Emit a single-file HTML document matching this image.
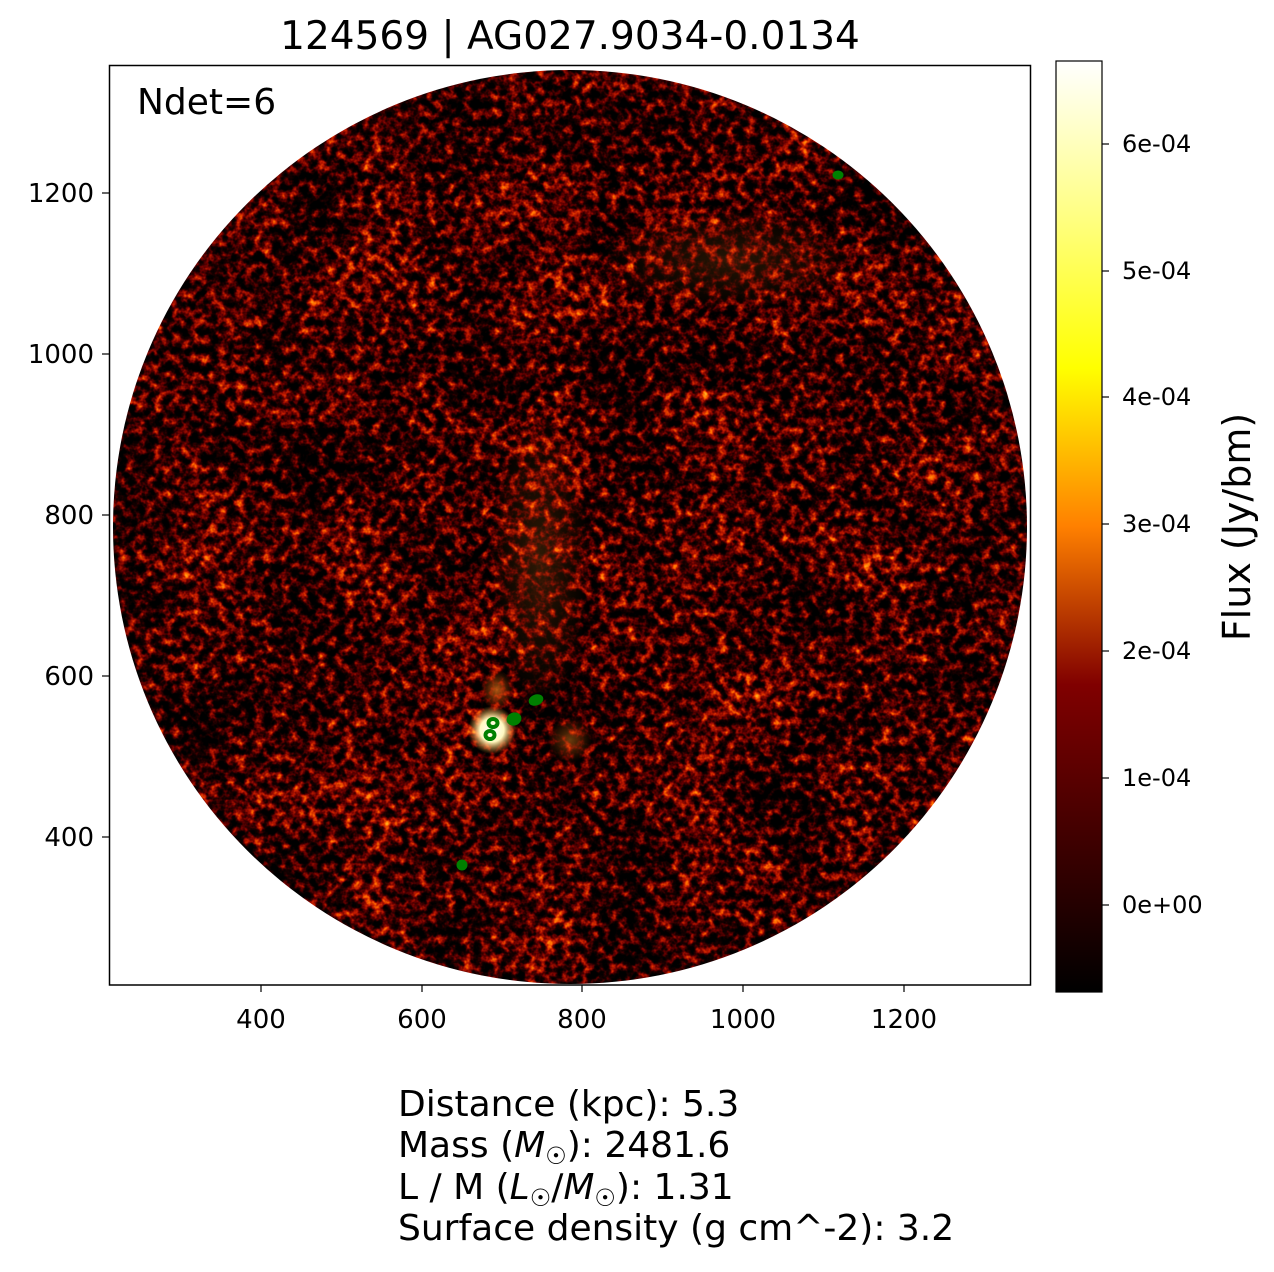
<!DOCTYPE html>
<html><head><meta charset="utf-8"><style>
body{margin:0;background:#fff;}
svg text{font-family:"DejaVu Sans","Liberation Sans",sans-serif;fill:#000;}
</style></head><body>
<svg width="1274" height="1267" viewBox="0 0 1274 1267" xmlns="http://www.w3.org/2000/svg">
<defs>
<filter id="noise" x="0" y="0" width="100%" height="100%" color-interpolation-filters="sRGB">
<feTurbulence type="fractalNoise" baseFrequency="0.11" numOctaves="3" seed="7" result="ta"/>
<feColorMatrix in="ta" type="matrix" values="1 0 0 0 0  1 0 0 0 0  1 0 0 0 0  0 0 0 0 1" result="t"/>
<feTurbulence type="fractalNoise" baseFrequency="0.012" numOctaves="2" seed="3" result="tb"/>
<feColorMatrix in="tb" type="matrix" values="1 0 0 0 0  1 0 0 0 0  1 0 0 0 0  0 0 0 0 1" result="t2"/>
<feComposite in="t" in2="t2" operator="arithmetic" k1="0" k2="0.85" k3="0.25" k4="-0.07" result="m"/>
<feColorMatrix in="m" type="matrix" values="1 0 0 0 0  1 0 0 0 0  1 0 0 0 0  0 0 0 0 1" result="g"/>
<feComponentTransfer in="g">
<feFuncR type="table" tableValues="0 0 0 0 0.1 0.4 0.75 1 1 1"/>
<feFuncG type="table" tableValues="0 0 0 0 0 0 0.1 0.4 0.65 0.8"/>
<feFuncB type="table" tableValues="0 0 0 0 0 0 0 0 0.1 0.3"/>
</feComponentTransfer>
</filter>
<clipPath id="cc"><circle cx="570" cy="527" r="457"/></clipPath>
<linearGradient id="cb" x1="0" y1="1" x2="0" y2="0">
<stop offset="0" stop-color="#000"/>
<stop offset="0.33" stop-color="#800000"/>
<stop offset="0.5" stop-color="#ff8000"/>
<stop offset="0.67" stop-color="#ffff00"/>
<stop offset="0.83" stop-color="#ffff80"/>
<stop offset="1" stop-color="#fff"/>
</linearGradient>
<radialGradient id="g1"><stop offset="0" stop-color="#ff9020" stop-opacity="0.6"/><stop offset="1" stop-color="#ff6000" stop-opacity="0"/></radialGradient>
<radialGradient id="g2"><stop offset="0" stop-color="#fff"/><stop offset="0.5" stop-color="#fff8c0"/><stop offset="1" stop-color="#ffa020" stop-opacity="0"/></radialGradient>
</defs>
<g clip-path="url(#cc)">
<rect x="110" y="66" width="920" height="918" filter="url(#noise)"/>
<ellipse cx="540" cy="560" rx="50" ry="150" fill="url(#g1)" opacity="0.3"/>
<ellipse cx="730" cy="260" rx="130" ry="50" fill="url(#g1)" opacity="0.25"/>
<ellipse cx="497" cy="690" rx="16" ry="20" fill="url(#g1)"/>
<ellipse cx="570" cy="740" rx="22" ry="22" fill="url(#g1)" opacity="0.7"/>
<circle cx="492" cy="730" r="24" fill="url(#g2)"/>
</g>
<g fill="#008000" stroke="#008000">
<ellipse cx="838" cy="175" rx="5" ry="4"/>
<ellipse cx="536" cy="700" rx="7" ry="5" transform="rotate(-20 536 700)"/>
<ellipse cx="514" cy="719" rx="7" ry="6" transform="rotate(-20 514 719)"/>
<ellipse cx="493" cy="723" rx="4.5" ry="4" fill="none" stroke-width="4"/>
<ellipse cx="490" cy="735" rx="4.5" ry="4" fill="none" stroke-width="4"/>
<circle cx="462" cy="865" r="5"/>
</g>
<rect x="109.5" y="65.5" width="921" height="919.5" fill="none" stroke="#000" stroke-width="1.5"/>
<g stroke="#000" stroke-width="1.2">
<line x1="261" y1="985" x2="261" y2="992"/><line x1="422" y1="985" x2="422" y2="992"/><line x1="582" y1="985" x2="582" y2="992"/><line x1="743" y1="985" x2="743" y2="992"/><line x1="904" y1="985" x2="904" y2="992"/>
<line x1="102" y1="193" x2="109" y2="193"/><line x1="102" y1="354" x2="109" y2="354"/><line x1="102" y1="515" x2="109" y2="515"/><line x1="102" y1="676" x2="109" y2="676"/><line x1="102" y1="837" x2="109" y2="837"/>
</g>
<g font-size="26" text-anchor="middle">
<text x="261" y="1028">400</text><text x="422" y="1028">600</text><text x="582" y="1028">800</text><text x="743" y="1028">1000</text><text x="904" y="1028">1200</text>
</g>
<g font-size="26" text-anchor="end">
<text x="94" y="202">1200</text><text x="94" y="363">1000</text><text x="94" y="524">800</text><text x="94" y="685">600</text><text x="94" y="846">400</text>
</g>
<text x="570" y="49" font-size="39" text-anchor="middle">124569 | AG027.9034-0.0134</text>
<text x="137" y="114" font-size="36">Ndet=6</text>
<rect x="1056" y="61" width="46" height="931" fill="url(#cb)" stroke="#000" stroke-width="1.2"/>
<g stroke="#000" stroke-width="1.2">
<line x1="1102" y1="144" x2="1109" y2="144"/><line x1="1102" y1="271" x2="1109" y2="271"/><line x1="1102" y1="397" x2="1109" y2="397"/><line x1="1102" y1="524" x2="1109" y2="524"/><line x1="1102" y1="651" x2="1109" y2="651"/><line x1="1102" y1="778" x2="1109" y2="778"/><line x1="1102" y1="905" x2="1109" y2="905"/>
</g>
<g font-size="24">
<text x="1122" y="152">6e-04</text><text x="1122" y="279">5e-04</text><text x="1122" y="405">4e-04</text><text x="1122" y="532">3e-04</text><text x="1122" y="659">2e-04</text><text x="1122" y="786">1e-04</text><text x="1122" y="913">0e+00</text>
</g>
<text transform="translate(1250,527) rotate(-90)" font-size="38" text-anchor="middle">Flux (Jy/bm)</text>
<g font-size="36">
<text x="398" y="1116">Distance (kpc): 5.3</text>
<text x="398" y="1157">Mass (<tspan font-style="italic">M</tspan><tspan font-size="24" dy="7">☉</tspan><tspan dy="-7">): 2481.6</tspan></text>
<text x="398" y="1199">L / M (<tspan font-style="italic">L</tspan><tspan font-size="24" dy="7">☉</tspan><tspan dy="-7">/</tspan><tspan font-style="italic">M</tspan><tspan font-size="24" dy="7">☉</tspan><tspan dy="-7">): 1.31</tspan></text>
<text x="398" y="1240">Surface density (g cm^-2): 3.2</text>
</g>
</svg>
</body></html>
